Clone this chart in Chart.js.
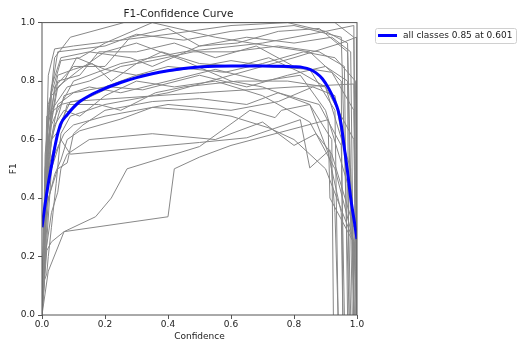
<!DOCTYPE html>
<html>
<head>
<meta charset="utf-8">
<script src="https://cdn.jsdelivr.net/npm/chart.js@4/dist/chart.umd.min.js"></script>
<style>
body{margin:0;background:#fff;}
#wrap{width:530px;height:351px;}
</style>
</head>
<body>
<div id="wrap"><canvas id="f1Chart" width="530" height="351"></canvas></div>
<script>
// all classes curve
const confAll = [0,0.01,0.02,0.03,0.04,0.05,0.06,0.08,0.1,0.12,0.15,0.2,0.25,0.3,0.35,0.4,0.45,0.5,0.55,0.6,0.65,0.7,0.75,0.8,0.83,0.85,0.87,0.89,0.91,0.93,0.94,0.95,0.96,0.97,0.98,0.99,1.0];
const f1All   = [0.30,0.38,0.45,0.51,0.57,0.62,0.655,0.685,0.71,0.73,0.75,0.775,0.795,0.812,0.825,0.835,0.843,0.848,0.851,0.852,0.852,0.852,0.851,0.849,0.846,0.840,0.828,0.808,0.775,0.73,0.70,0.65,0.57,0.49,0.40,0.33,0.26];
const legendLabel = "all classes 0.85 at 0.601";

// per class curves [confidence, F1]
const cls01 = [[0,0],[0.015,0.6],[0.04,0.88],[0.09,0.95],[0.26,1.0],[0.7,1.0],[0.93,1.0],[0.99,0.95],[1.0,0]];
const cls02 = [[0,0],[0.02,0.7],[0.05,0.9],[0.2,0.92],[0.3,0.96],[0.45,0.94],[0.6,0.97],[0.8,0.99],[0.95,0.95],[0.975,0]];
const cls03 = [[0,0.05],[0.02,0.72],[0.06,0.87],[0.12,0.88],[0.2,0.93],[0.35,1.0],[0.55,0.95],[0.72,0.92],[0.85,0.9],[0.95,0.8],[0.955,0]];
const cls04 = [[0,0],[0.01,0.5],[0.04,0.78],[0.1,0.85],[0.2,0.85],[0.28,0.95],[0.4,0.98],[0.5,0.92],[0.62,0.93],[0.75,0.97],[0.88,0.98],[0.97,0.9],[0.985,0]];
const cls05 = [[0,0],[0.02,0.6],[0.05,0.8],[0.12,0.82],[0.18,0.9],[0.3,0.9],[0.42,0.93],[0.55,0.88],[0.68,0.92],[0.8,0.85],[0.92,0.83],[0.99,0.7],[1.0,0]];
const cls06 = [[0,0],[0.01,0.45],[0.03,0.7],[0.08,0.78],[0.15,0.8],[0.25,0.85],[0.35,0.87],[0.48,0.9],[0.6,0.9],[0.75,0.92],[0.88,0.9],[0.96,0.85],[0.97,0]];
const cls07 = [[0,0.1],[0.02,0.55],[0.05,0.72],[0.1,0.76],[0.2,0.78],[0.3,0.82],[0.45,0.84],[0.6,0.87],[0.72,0.85],[0.85,0.84],[0.93,0.7],[0.94,0]];
const cls08 = [[0,0],[0.02,0.5],[0.06,0.66],[0.09,0.73],[0.5,0.76],[0.8,0.78],[0.99,0.79],[1.0,0]];
const cls09 = [[0,0],[0.03,0.5],[0.06,0.6],[0.09,0.55],[0.5,0.59],[0.65,0.606],[0.82,0.668],[0.85,0.503],[0.914,0.565],[0.93,0.35],[0.94,0]];
const cls10 = [[0,0],[0.02,0.15],[0.07,0.285],[0.17,0.336],[0.22,0.40],[0.27,0.50],[0.5,0.576],[0.66,0.70],[0.74,0.675],[0.76,0.70],[0.85,0.72],[0.92,0.6],[0.925,0]];
const cls11 = [[0,0],[0.015,0.22],[0.03,0.25],[0.07,0.285],[0.40,0.336],[0.42,0.50],[0.5,0.54],[0.6,0.58],[0.908,0.668],[0.914,0.40],[0.988,0.25],[0.99,0]];
const cls12 = [[0,0],[0.015,0.5],[0.04,0.65],[0.07,0.7],[0.12,0.68],[0.2,0.75],[0.3,0.8],[0.42,0.78],[0.55,0.8],[0.7,0.75],[0.85,0.66],[0.93,0.5],[0.99,0.25],[1.0,0]];
const cls13 = [[0,0],[0.01,0.3],[0.03,0.6],[0.07,0.75],[0.15,0.78],[0.25,0.76],[0.4,0.8],[0.55,0.84],[0.7,0.8],[0.82,0.82],[0.9,0.7],[0.97,0.45],[0.98,0]];
const cls14 = [[0,0],[0.02,0.65],[0.05,0.82],[0.1,0.84],[0.16,0.86],[0.22,0.8],[0.3,0.86],[0.38,0.9],[0.5,0.86],[0.62,0.85],[0.72,0.88],[0.82,0.83],[0.9,0.78],[0.99,0.6],[1.0,0]];
const cls15 = [[0,0],[0.01,0.4],[0.03,0.6],[0.06,0.64],[0.08,0.72],[0.18,0.72],[0.25,0.7],[0.36,0.76],[0.45,0.78],[0.62,0.8],[0.78,0.8],[0.9,0.78],[0.98,0.5],[0.99,0]];
const cls16 = [[0,0],[0.02,0.4],[0.05,0.5],[0.08,0.52],[0.1,0.62],[0.13,0.65],[0.2,0.7],[0.35,0.73],[0.5,0.74],[0.65,0.72],[0.75,0.76],[0.88,0.72],[0.95,0.58],[0.96,0]];
const cls17 = [[0,0],[0.01,0.35],[0.04,0.48],[0.06,0.53],[0.08,0.6],[0.12,0.63],[0.25,0.67],[0.35,0.71],[0.48,0.7],[0.6,0.68],[0.72,0.64],[0.8,0.6],[0.9,0.5],[0.99,0.25],[1.0,0]];
const cls18 = [[0,0],[0.02,0.82],[0.04,0.91],[0.1,0.92],[0.25,0.94],[0.4,0.96],[0.6,0.99],[0.78,1.0],[0.9,0.97],[0.97,0.93],[0.99,0]];
const cls19 = [[0,0],[0.03,0.75],[0.07,0.8],[0.11,0.88],[0.2,0.84],[0.3,0.82],[0.4,0.85],[0.58,0.83],[0.7,0.86],[0.83,0.9],[0.93,0.88],[0.995,0.8],[1.0,0]];
const cls20 = [[0,0],[0.015,0.68],[0.06,0.72],[0.14,0.74],[0.22,0.78],[0.32,0.77],[0.5,0.82],[0.65,0.78],[0.78,0.82],[0.9,0.85],[0.97,0.8],[0.975,0]];
const cls21 = [[0,0],[0.01,0.2],[0.03,0.35],[0.05,0.42],[0.06,0.5],[0.08,0.55],[0.15,0.6],[0.35,0.62],[0.55,0.6],[0.7,0.66],[0.8,0.58],[0.87,0.62],[0.92,0.55],[0.99,0.3],[1.0,0]];
const cls22 = [[0,0],[0.005,0.3],[0.02,0.45],[0.04,0.55],[0.07,0.62],[0.1,0.65],[0.2,0.68],[0.3,0.7],[0.4,0.72],[0.6,0.7],[0.75,0.73],[0.86,0.78],[0.93,0.75],[0.985,0.4],[0.99,0]];
const cls23 = [[0,0],[0.02,0.6],[0.05,0.78],[0.12,0.84],[0.2,0.9],[0.3,0.93],[0.45,0.87],[0.6,0.8],[0.7,0.78],[0.85,0.72],[0.908,0.555],[0.95,0.35],[0.955,0]];
const cls24 = [[0,0],[0.01,0.55],[0.03,0.78],[0.06,0.88],[0.15,0.9],[0.28,0.88],[0.35,0.85],[0.5,0.92],[0.65,0.95],[0.8,0.93],[0.92,0.95],[0.98,0.9],[0.99,0]];
const cls25 = [[0,0],[0.005,0.2],[0.01,0.45],[0.02,0.55],[0.03,0.65],[0.05,0.7],[0.1,0.8],[0.25,0.86],[0.45,0.9],[0.7,0.93],[0.9,0.97],[0.99,0.99],[0.995,0]];
const cls26 = [[0,0],[0.008,0.12],[0.015,0.14],[0.02,0.2],[0.03,0.3],[0.045,0.45],[0.06,0.62],[0.09,0.68],[0.2,0.72],[0.4,0.76],[0.6,0.82],[0.8,0.88],[0.95,0.93],[0.998,0.95],[1.0,0]];
const classCurves = [cls01,cls02,cls03,cls04,cls05,cls06,cls07,cls08,cls09,cls10,cls11,cls12,cls13,cls14,cls15,cls16,cls17,cls18,cls19,cls20,cls21,cls22,cls23,cls24,cls25,cls26];

const FONT = "'DejaVu Sans', sans-serif";
Chart.defaults.font.family = FONT;
Chart.defaults.color = "#222";

// frame + legend
const frameLegend = {
  id:'frameLegend',
  afterDraw(chart){
    const {ctx, chartArea:a} = chart;
    ctx.save();
    ctx.strokeStyle = "#555";
    ctx.lineWidth = 1;
    ctx.strokeRect(a.left, a.top, a.right-a.left, a.bottom-a.top);
    // legend box
    const bx = 375.5, by = 28.5, bw = 141, bh = 15;
    ctx.fillStyle = "#fff";
    ctx.strokeStyle = "#d0d0d0";
    ctx.beginPath();
    ctx.roundRect(bx, by, bw, bh, 2);
    ctx.fill(); ctx.stroke();
    ctx.strokeStyle = "blue";
    ctx.lineWidth = 3;
    ctx.beginPath();
    ctx.moveTo(378, 35.5); ctx.lineTo(397, 35.5);
    ctx.stroke();
    ctx.fillStyle = "#222";
    ctx.font = "9px " + FONT;
    ctx.textBaseline = "middle";
    ctx.fillText(legendLabel, 403, 36);
    ctx.restore();
  }
};

const datasets = [{
  data: confAll.map((c,i)=>({x:c, y:f1All[i]})),
  borderColor:'blue', borderWidth:3, pointRadius:0,
  cubicInterpolationMode:'monotone'
}];
classCurves.forEach(cls=>{
  datasets.push({
    data: cls.map(p=>({x:p[0], y:p[1]})),
    borderColor:'rgb(136,136,136)', borderWidth:1, pointRadius:0, tension:0
  });
});

new Chart(document.getElementById("f1Chart"),{
  type:'line',
  data:{datasets},
  options:{
    responsive:false,
    animation:false,
    events:[],
    layout:{padding:{left:0,right:173,top:0,bottom:0}},
    plugins:{
      legend:{display:false},
      tooltip:{enabled:false},
      title:{display:true,text:"F1-Confidence Curve",font:{size:10.5,weight:'normal'},color:"#222",padding:{top:8,bottom:2}}
    },
    scales:{
      x:{
        type:'linear', min:0, max:1,
        afterFit(s){ s.height = 36; },
        border:{display:false},
        grid:{drawOnChartArea:false, drawTicks:true, tickLength:4, tickColor:"#555"},
        ticks:{stepSize:0.2, padding:0, font:{size:9}, maxRotation:0, callback:v=>v.toFixed(1)},
        title:{display:true, text:"Confidence", font:{size:9}, padding:{top:0,bottom:9}}
      },
      y:{
        type:'linear', min:0, max:1,
        afterFit(s){ s.width = 42; },
        border:{display:false},
        grid:{drawOnChartArea:false, drawTicks:true, tickLength:4, tickColor:"#555"},
        ticks:{stepSize:0.2, padding:3, font:{size:9}, callback:v=>v.toFixed(1)},
        title:{display:true, text:"F1", font:{size:9}, padding:{top:8,bottom:0}}
      }
    }
  },
  plugins:[frameLegend]
});
</script>
</body>
</html>
